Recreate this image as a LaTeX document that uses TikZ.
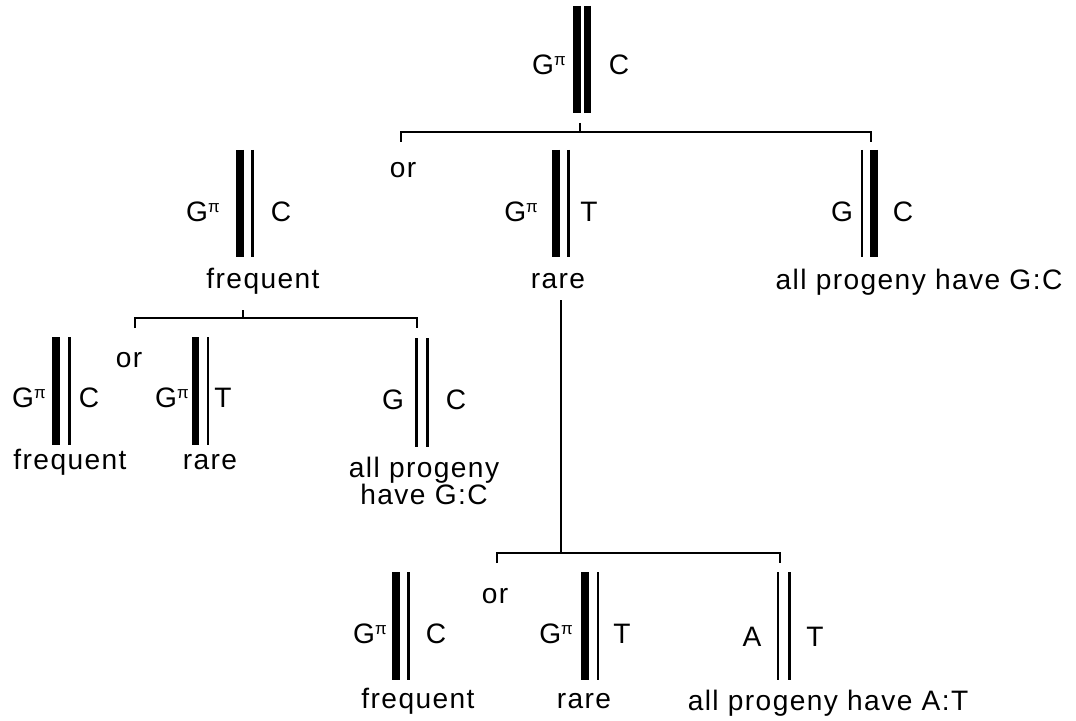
\documentclass[tikz,border=0pt]{standalone}
\usepackage{fontspec}
\setmainfont{Liberation Sans}[LetterSpace=5]
\newcommand{\Gpi}{G\raisebox{.6ex}{\fontsize{12}{12}\selectfont π}}

\begin{document}
\begin{tikzpicture}[x=0.025cm, y=-0.025cm, font=\fontsize{20}{19}\selectfont,
  strong/.style={line width=5pt},
  weak/.style={line width=1.8pt},
  link/.style={line width=1.3pt},
  base/.style={inner sep=0pt}]
  \useasboundingbox (0,0) rectangle (1076,721);

  % parent duplex
  \draw[strong] (577,6) -- (577,113);
  \draw[strong] (587.5,6) -- (587.5,113);
  \node[base] (a0) at (549,65) {\Gpi};
  \node[base] (b0) at (619,65) {C};

  \coordinate (p0) at (580,123);
  \coordinate (j0) at (580,132);
  \coordinate (e0a) at (401,142);
  \coordinate (e0b) at (871,142);
  \draw[link] (p0) -- (j0);
  \draw[link] (e0a) |- (j0) -| (e0b);
  \node[base] (or0) at (403,170) {or};

  % first round
  \draw[strong] (240,150) -- (240,257);
  \draw[weak] (252.5,150) -- (252.5,257);
  \node[base] (a1) at (203,212) {\Gpi};
  \node[base] (b1) at (281,212) {C};
  \node[base] (t1) at (263,281) {frequent};

  \draw[strong] (556,150) -- (556,257);
  \draw[weak] (568.5,150) -- (568.5,257);
  \node[base] (a2) at (521,212) {\Gpi};
  \node[base] (b2) at (589,212) {T};
  \node[base] (t2) at (558,281) {rare};

  \draw[weak] (862,150) -- (862,257);
  \draw[strong] (874,150) -- (874,257);
  \node[base] (a3) at (842,212) {G};
  \node[base] (b3) at (903,212) {C};
  \node[base] (t3) at (919,282) {all progeny have G:C};

  % second round, after frequent
  \coordinate (p1) at (243,310);
  \coordinate (j1) at (243,318);
  \coordinate (e1a) at (135,328);
  \coordinate (e1b) at (417,328);
  \draw[link] (p1) -- (j1);
  \draw[link] (e1a) |- (j1) -| (e1b);
  \node[base] (or1) at (129,360) {or};

  \draw[strong] (56,337) -- (56,445);
  \draw[weak] (69.5,337) -- (69.5,445);
  \node[base] (a4) at (29,398) {\Gpi};
  \node[base] (b4) at (89,398) {C};
  \node[base] (t4) at (70,462) {frequent};

  \draw[strong] (195.5,337) -- (195.5,445);
  \draw[weak] (208,337) -- (208,445);
  \node[base] (a5) at (172,398) {\Gpi};
  \node[base] (b5) at (223,398) {T};
  \node[base] (t5) at (210,462) {rare};

  \draw[weak] (416.5,338) -- (416.5,447);
  \draw[weak] (427.5,338) -- (427.5,447);
  \node[base] (a6) at (393,400) {G};
  \node[base] (b6) at (456,400) {C};
  \node[base, align=center] (t6) at (424,481) {all progeny\\have G:C};

  % second round, after rare
  \coordinate (p2) at (561,300);
  \coordinate (j2) at (561,553);
  \coordinate (e2a) at (497,563);
  \coordinate (e2b) at (780,563);
  \draw[link] (p2) -- (j2);
  \draw[link] (e2a) |- (j2) -| (e2b);
  \node[base] (or2) at (495,596) {or};

  \draw[strong] (396,572) -- (396,680);
  \draw[weak] (408.5,572) -- (408.5,680);
  \node[base] (a7) at (370,634) {\Gpi};
  \node[base] (b7) at (436,634) {C};
  \node[base] (t7) at (418,701) {frequent};

  \draw[strong] (585,572) -- (585,680);
  \draw[weak] (598,572) -- (598,680);
  \node[base] (a8) at (556,634) {\Gpi};
  \node[base] (b8) at (622,634) {T};
  \node[base] (t8) at (584,701) {rare};

  \draw[weak] (778,572) -- (778,680);
  \draw[weak] (789.5,572) -- (789.5,680);
  \node[base] (a9) at (752,637) {A};
  \node[base] (b9) at (815,637) {T};
  \node[base] (t9) at (828,703) {all progeny have A:T};
\end{tikzpicture}
\end{document}
